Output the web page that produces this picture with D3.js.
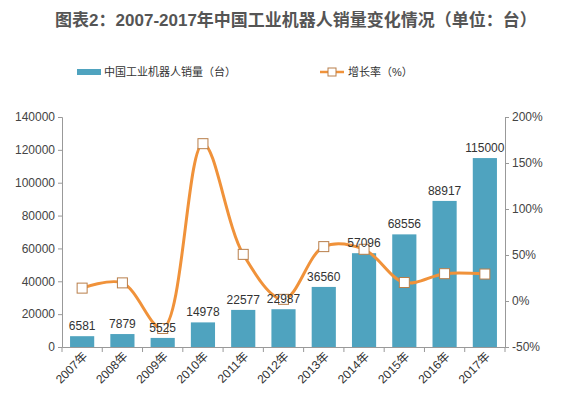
<!DOCTYPE html><html><head><meta charset="utf-8"><script src="https://cdn.jsdelivr.net/npm/d3@7"></script>
<style>body{margin:0;background:#fff}text{font-family:"Liberation Sans","Noto Sans CJK SC",sans-serif}</style></head><body><svg id="c" width="573" height="406"></svg><script>
const years=["2007年","2008年","2009年","2010年","2011年","2012年","2013年","2014年","2015年","2016年","2017年"];
const sales=[6581,7879,5525,14978,22577,22987,36560,57096,68556,88917,115000];
const growth=[14,19.7,-29.9,171,50.7,1.8,59.1,56.2,20.1,29.7,29.3];
const leftTicks=[0,20000,40000,60000,80000,100000,120000,140000];
const rightTicks=[-50,0,50,100,150,200];
const svg=d3.select("#c");
const L=62,R=505,T=117,B=347;
const x=d3.scaleBand().domain(years).range([L,R]).paddingInner(0.4).paddingOuter(0.2);
const y=d3.scaleLinear().domain([0,140000]).range([B,T]);
const y2=d3.scaleLinear().domain([-50,200]).range([B,T]);
svg.append("text").attr("x",296).attr("y",26).attr("text-anchor","middle").attr("font-size",17).attr("font-weight","bold").attr("fill","#555").text("图表2：2007-2017年中国工业机器人销量变化情况（单位：台）");
svg.append("rect").attr("x",77).attr("y",69).attr("width",24).attr("height",6).attr("fill","#4fa3bf");
svg.append("text").attr("x",104).attr("y",76).attr("font-size",11).attr("fill","#333").text("中国工业机器人销量（台）");
svg.append("line").attr("x1",320).attr("x2",344).attr("y1",72).attr("y2",72).attr("stroke","#f0923a").attr("stroke-width",2.5);
svg.append("rect").attr("x",328).attr("y",68).attr("width",8).attr("height",8).attr("fill","#fff").attr("stroke","#b87e4a");
svg.append("text").attr("x",348).attr("y",76).attr("font-size",11).attr("fill","#333").text("增长率（%）");
const ax=svg.append("g").attr("transform",`translate(${L},0)`).call(d3.axisLeft(y).tickValues(leftTicks).tickSize(4).tickFormat(d3.format("d")));
const ar=svg.append("g").attr("transform",`translate(${R},0)`).call(d3.axisRight(y2).tickValues(rightTicks).tickSize(4).tickFormat(d=>d+"%"));
const ab=svg.append("g").attr("transform",`translate(0,${B})`).call(d3.axisBottom(x).tickSize(0).tickFormat(""));
[ax,ar,ab].forEach(g=>{g.selectAll("path,line").attr("stroke","#999");g.selectAll("text").attr("font-size",12).attr("fill","#444").attr("font-family","Liberation Sans");});
d3.range(years.length+1).forEach(i=>{const xx=L+i*(R-L)/years.length;svg.append("line").attr("x1",xx).attr("x2",xx).attr("y1",B).attr("y2",B+5).attr("stroke","#999");});
svg.selectAll(".xl").data(years).enter().append("text").attr("font-size",12).attr("fill","#333").attr("text-anchor","end")
 .attr("transform",d=>`translate(${x(d)+x.bandwidth()/2+6},${B+10}) rotate(-45)`).text(d=>d);
svg.selectAll(".bar").data(sales).enter().append("rect").attr("x",(d,i)=>x(years[i])).attr("width",x.bandwidth()).attr("y",d=>y(d)).attr("height",d=>B-y(d)).attr("fill","#4fa3bf");
const line=d3.line().x((d,i)=>x(years[i])+x.bandwidth()/2).y(d=>y2(d)).curve(d3.curveCatmullRom.alpha(0.5));
svg.append("path").datum(growth).attr("d",line).attr("fill","none").attr("stroke","#f0923a").attr("stroke-width",3);
svg.selectAll(".m").data(growth).enter().append("rect").attr("x",(d,i)=>x(years[i])+x.bandwidth()/2-5).attr("y",d=>y2(d)-5).attr("width",10).attr("height",10).attr("fill","#fff").attr("stroke","#b87e4a");
svg.selectAll(".lb").data(sales).enter().append("text").attr("x",(d,i)=>x(years[i])+x.bandwidth()/2).attr("y",d=>y(d)-6).attr("text-anchor","middle").attr("font-size",12).attr("fill","#333").text(d=>d);
</script></body></html>
